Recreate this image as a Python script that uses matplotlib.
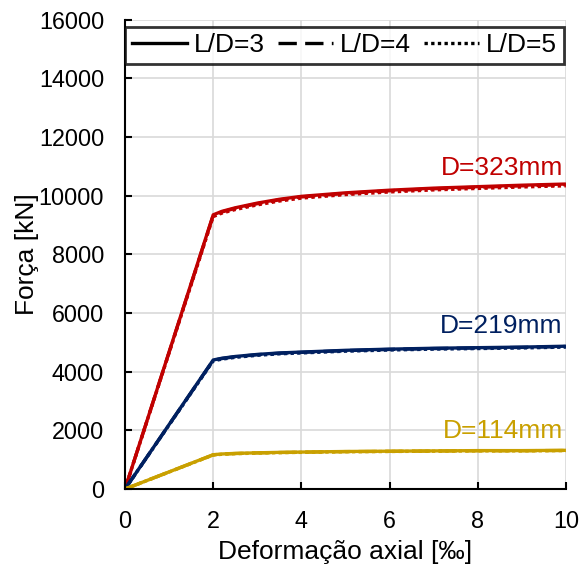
import matplotlib
matplotlib.use("Agg")
import matplotlib.pyplot as plt
from matplotlib.lines import Line2D

plt.rcParams['font.family'] = ['Liberation Sans', 'DejaVu Sans']

# Axial strain [‰] sample points
strain = [0, 2, 2.2, 2.5, 3, 3.5, 4, 5, 6, 7, 8, 9, 10]

# Force [kN] per diameter and slenderness (L/D = 3, 4, 5)
f323_ld3 = [0, 9350, 9470, 9590, 9750, 9880, 9980, 10100, 10190, 10260, 10310, 10360, 10400]
f323_ld4 = [0, 9330, 9450, 9570, 9730, 9860, 9960, 10080, 10170, 10240, 10290, 10340, 10380]
f323_ld5 = [0, 9290, 9410, 9530, 9690, 9820, 9920, 10040, 10130, 10200, 10250, 10300, 10340]

f219_ld3 = [0, 4400, 4460, 4520, 4590, 4640, 4670, 4730, 4770, 4800, 4820, 4840, 4870]
f219_ld4 = [0, 4390, 4450, 4510, 4580, 4630, 4660, 4720, 4760, 4790, 4810, 4830, 4860]
f219_ld5 = [0, 4370, 4430, 4490, 4560, 4610, 4640, 4700, 4740, 4770, 4790, 4810, 4840]

f114_ld3 = [0, 1170, 1195, 1215, 1235, 1250, 1260, 1280, 1290, 1300, 1310, 1310, 1320]
f114_ld4 = [0, 1165, 1190, 1210, 1230, 1245, 1255, 1275, 1285, 1295, 1305, 1305, 1315]
f114_ld5 = [0, 1160, 1185, 1205, 1225, 1240, 1250, 1270, 1280, 1290, 1300, 1300, 1310]

diameters = ["D=323mm", "D=219mm", "D=114mm"]
label_y = [10550, 5150, 1580]
ld_labels = ["L/D=3", "L/D=4", "L/D=5"]

series = [
    (f323_ld3, f323_ld4, f323_ld5),
    (f219_ld3, f219_ld4, f219_ld5),
    (f114_ld3, f114_ld4, f114_ld5),
]
colors = ["#C00000", "#002060", "#C9A000"]
styles = ["-", (0, (5.5, 2.5)), (0, (1, 1))]

fig = plt.figure(figsize=(5.87, 5.66), dpi=100)
ax = fig.add_axes([0.213, 0.136, 0.751, 0.829])

for group, color in zip(series, colors):
    for force, ls in zip(group, styles):
        ax.plot(strain, force, color=color, linestyle=ls, linewidth=2.4,
                solid_capstyle='butt')

for name, yv, color in zip(diameters, label_y, colors):
    ax.text(9.93, yv, name, color=color, fontsize=19, ha='right', va='bottom')

ax.set_xlim(0, 10)
ax.set_ylim(0, 16000)
ax.set_xticks(range(0, 11, 2))
ax.set_yticks(range(0, 16001, 2000))
ax.grid(True, color='#D9D9D9', linewidth=1.2)
ax.set_axisbelow(True)

for side in ['top', 'right']:
    ax.spines[side].set_visible(False)
for side in ['left', 'bottom']:
    ax.spines[side].set_linewidth(1.5)
    ax.spines[side].set_color('black')

ax.tick_params(direction='in', length=5, width=1.5, labelsize=16.8, pad=15)

ax.set_xlabel("Deformação axial [‰]", fontsize=19, labelpad=5)
ax.set_ylabel("Força [kN]", fontsize=19, labelpad=0)

handles = [Line2D([0], [0], color='black', linestyle=ls, linewidth=2.4)
           for ls in styles]
leg = ax.legend(handles, ld_labels, loc='upper right', ncol=3, fontsize=19,
                frameon=True, fancybox=False, handlelength=2.08,
                handletextpad=0.27, columnspacing=0.5, borderpad=0.25,
                bbox_to_anchor=(0.995, 0.985), borderaxespad=0.0)
leg.get_frame().set_edgecolor('black')
leg.get_frame().set_linewidth(2.0)

fig.savefig("out.png", dpi=100)
